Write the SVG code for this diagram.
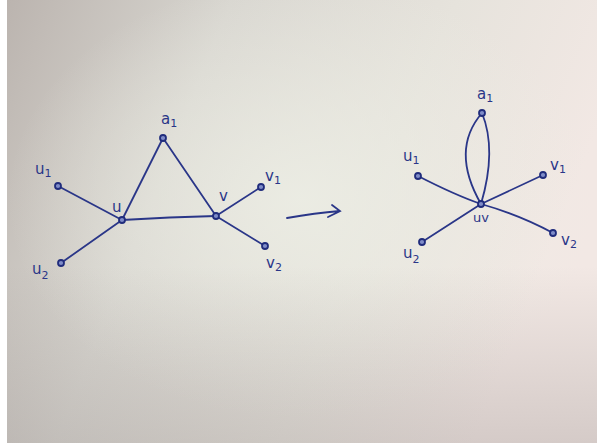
<svg xmlns="http://www.w3.org/2000/svg" width="597" height="448" viewBox="0 0 597 448">
<defs>
<linearGradient id="bg" x1="0" y1="0" x2="1" y2="0.3">
<stop offset="0" stop-color="#bbb4af"/>
<stop offset="0.35" stop-color="#d8d6d0"/>
<stop offset="0.7" stop-color="#e6e3dc"/>
<stop offset="1" stop-color="#f2e8e4"/>
</linearGradient>
<radialGradient id="glow" cx="0.5" cy="0.45" r="0.5">
<stop offset="0" stop-color="#ecede4" stop-opacity="0.9"/>
<stop offset="1" stop-color="#ecede4" stop-opacity="0"/>
</radialGradient>
<linearGradient id="shade" x1="0" y1="0" x2="0" y2="1">
<stop offset="0.6" stop-color="#8a8080" stop-opacity="0"/>
<stop offset="1" stop-color="#8a8080" stop-opacity="0.28"/>
</linearGradient>
<style>
.e{fill:none;stroke:#2a3688;stroke-width:1.8;stroke-linecap:round}
.n{fill:#7f8cc8;stroke:#202c7c;stroke-width:1.8}
.t{font-family:"DejaVu Sans",sans-serif;font-size:15px;fill:#2a3688}
.s{font-size:11px}
</style>
</defs>
<rect width="597" height="448" fill="#ffffff"/>
<rect x="7" y="0" width="590" height="443" fill="url(#bg)"/>
<rect x="7" y="0" width="590" height="443" fill="url(#glow)"/>
<rect x="7" y="0" width="590" height="443" fill="url(#shade)"/>
<g id="connectors">
<line class="e" x1="58" y1="186" x2="122" y2="220"/>
<line class="e" x1="61" y1="263" x2="122" y2="220"/>
<line class="e" x1="122" y1="220" x2="163" y2="138"/>
<line class="e" x1="163" y1="138" x2="216" y2="216"/>
<path class="e" d="M122,220 Q170,217 216,216"/>
<line class="e" x1="216" y1="216" x2="261" y2="187"/>
<line class="e" x1="216" y1="216" x2="265" y2="246"/>
<path class="e" d="M287,218 Q315,213 340,211 M332,205 L340,211 L328,217"/>
<path class="e" d="M418,176 Q455,195 481,204"/>
<line class="e" x1="422" y1="242" x2="481" y2="204"/>
<line class="e" x1="481" y1="204" x2="543" y2="175"/>
<path class="e" d="M481,204 Q520,215 553,233"/>
<path class="e" d="M481,204 Q450,150 482,113"/>
<path class="e" d="M481,204 Q497,150 482,113"/>
</g>
<g id="a1"><circle class="n" cx="163" cy="138" r="3"/><text class="t" x="161" y="124">a<tspan class="s" dy="3">1</tspan></text></g>
<g id="u1"><circle class="n" cx="58" cy="186" r="3"/><text class="t" x="35" y="174">u<tspan class="s" dy="3">1</tspan></text></g>
<g id="u"><circle class="n" cx="122" cy="220" r="3"/><text class="t" x="112" y="212">u</text></g>
<g id="u2"><circle class="n" cx="61" cy="263" r="3"/><text class="t" x="32" y="274">u<tspan class="s" dy="5">2</tspan></text></g>
<g id="v"><circle class="n" cx="216" cy="216" r="3"/><text class="t" x="219" y="201">v</text></g>
<g id="v1"><circle class="n" cx="261" cy="187" r="3"/><text class="t" x="265" y="181">v<tspan class="s" dy="3">1</tspan></text></g>
<g id="v2"><circle class="n" cx="265" cy="246" r="3"/><text class="t" x="266" y="268">v<tspan class="s" dy="3">2</tspan></text></g>
<g id="a1p"><circle class="n" cx="482" cy="113" r="3"/><text class="t" x="477" y="99">a<tspan class="s" dy="3">1</tspan></text></g>
<g id="u1p"><circle class="n" cx="418" cy="176" r="3"/><text class="t" x="403" y="161">u<tspan class="s" dy="3">1</tspan></text></g>
<g id="uv"><circle class="n" cx="481" cy="204" r="3"/><text class="t" x="473" y="222" style="font-size:13px">uv</text></g>
<g id="u2p"><circle class="n" cx="422" cy="242" r="3"/><text class="t" x="403" y="258">u<tspan class="s" dy="5">2</tspan></text></g>
<g id="v1p"><circle class="n" cx="543" cy="175" r="3"/><text class="t" x="550" y="170">v<tspan class="s" dy="3">1</tspan></text></g>
<g id="v2p"><circle class="n" cx="553" cy="233" r="3"/><text class="t" x="561" y="245">v<tspan class="s" dy="3">2</tspan></text></g>
</svg>
